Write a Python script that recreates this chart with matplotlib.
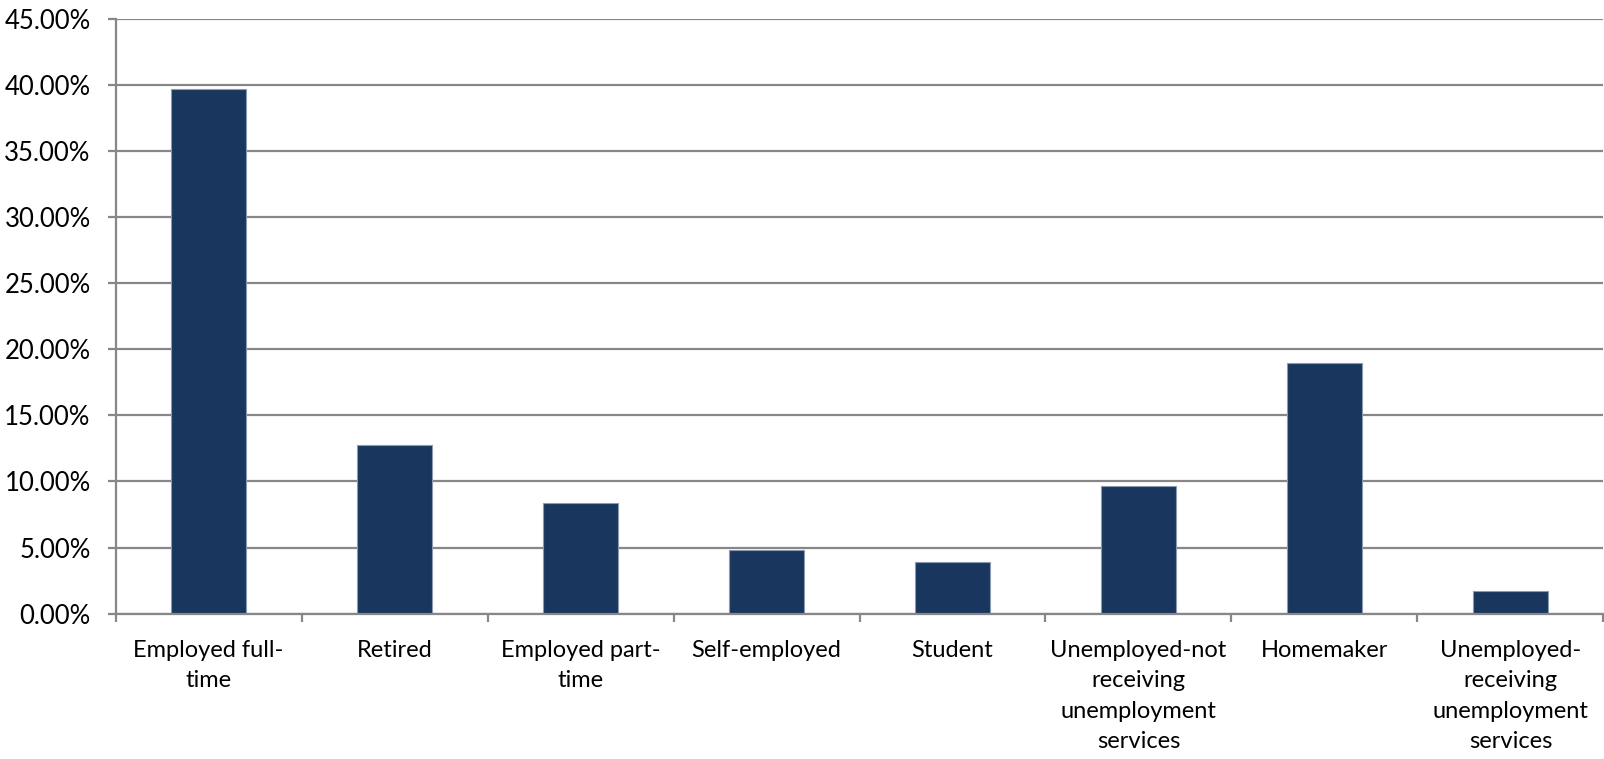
import numpy as np
import matplotlib.pyplot as plt
from matplotlib.ticker import FuncFormatter, FixedLocator

# Employment status shares
categories = ['Employed full-\ntime', 'Retired', 'Employed part-\ntime', 'Self-employed',
              'Student', 'Unemployed-not\nreceiving\nunemployment\nservices', 'Homemaker',
              'Unemployed-\nreceiving\nunemployment\nservices']
shares = [39.64, 12.75, 8.34, 4.81, 3.93, 9.67, 18.93, 1.74]

plt.rcParams['font.family'] = ['Lato', 'DejaVu Sans']

fig = plt.figure(figsize=(16.04, 7.59), dpi=100)
ax = fig.add_axes([0.0721, 0.1914, 0.9275, 0.7842])

x = np.arange(len(categories))
ax.bar(x, shares, width=0.4, color='#19375E', edgecolor='#8a9bb0', linewidth=0.8, zorder=3)

ax.set_xlim(-0.5, len(categories) - 0.5)
ax.set_ylim(0, 45)
ax.set_yticks(np.arange(0, 46, 5))
ax.yaxis.set_major_formatter(FuncFormatter(lambda v, p: '{:.2f}%'.format(v)))
ax.grid(axis='y', color='#878787', linewidth=1.6, zorder=0)

# category labels centred, tick marks between categories
ax.set_xticks(x)
ax.set_xticklabels(categories, fontsize=17, linespacing=1.55)
ax.tick_params(axis='x', which='major', length=0, pad=19)
ax.xaxis.set_minor_locator(FixedLocator(np.arange(-0.5, len(categories), 1.0)))
ax.tick_params(axis='x', which='minor', length=6, width=1.6, color='#878787')
ax.tick_params(axis='y', length=6, width=1.6, color='#878787', labelsize=18.5, pad=12)

for side in ['top', 'right']:
    ax.spines[side].set_visible(False)
for side in ['left', 'bottom']:
    ax.spines[side].set_color('#878787')
    ax.spines[side].set_linewidth(1.6)
    ax.spines[side].set_zorder(4)

fig.savefig('out.png', dpi=100)
